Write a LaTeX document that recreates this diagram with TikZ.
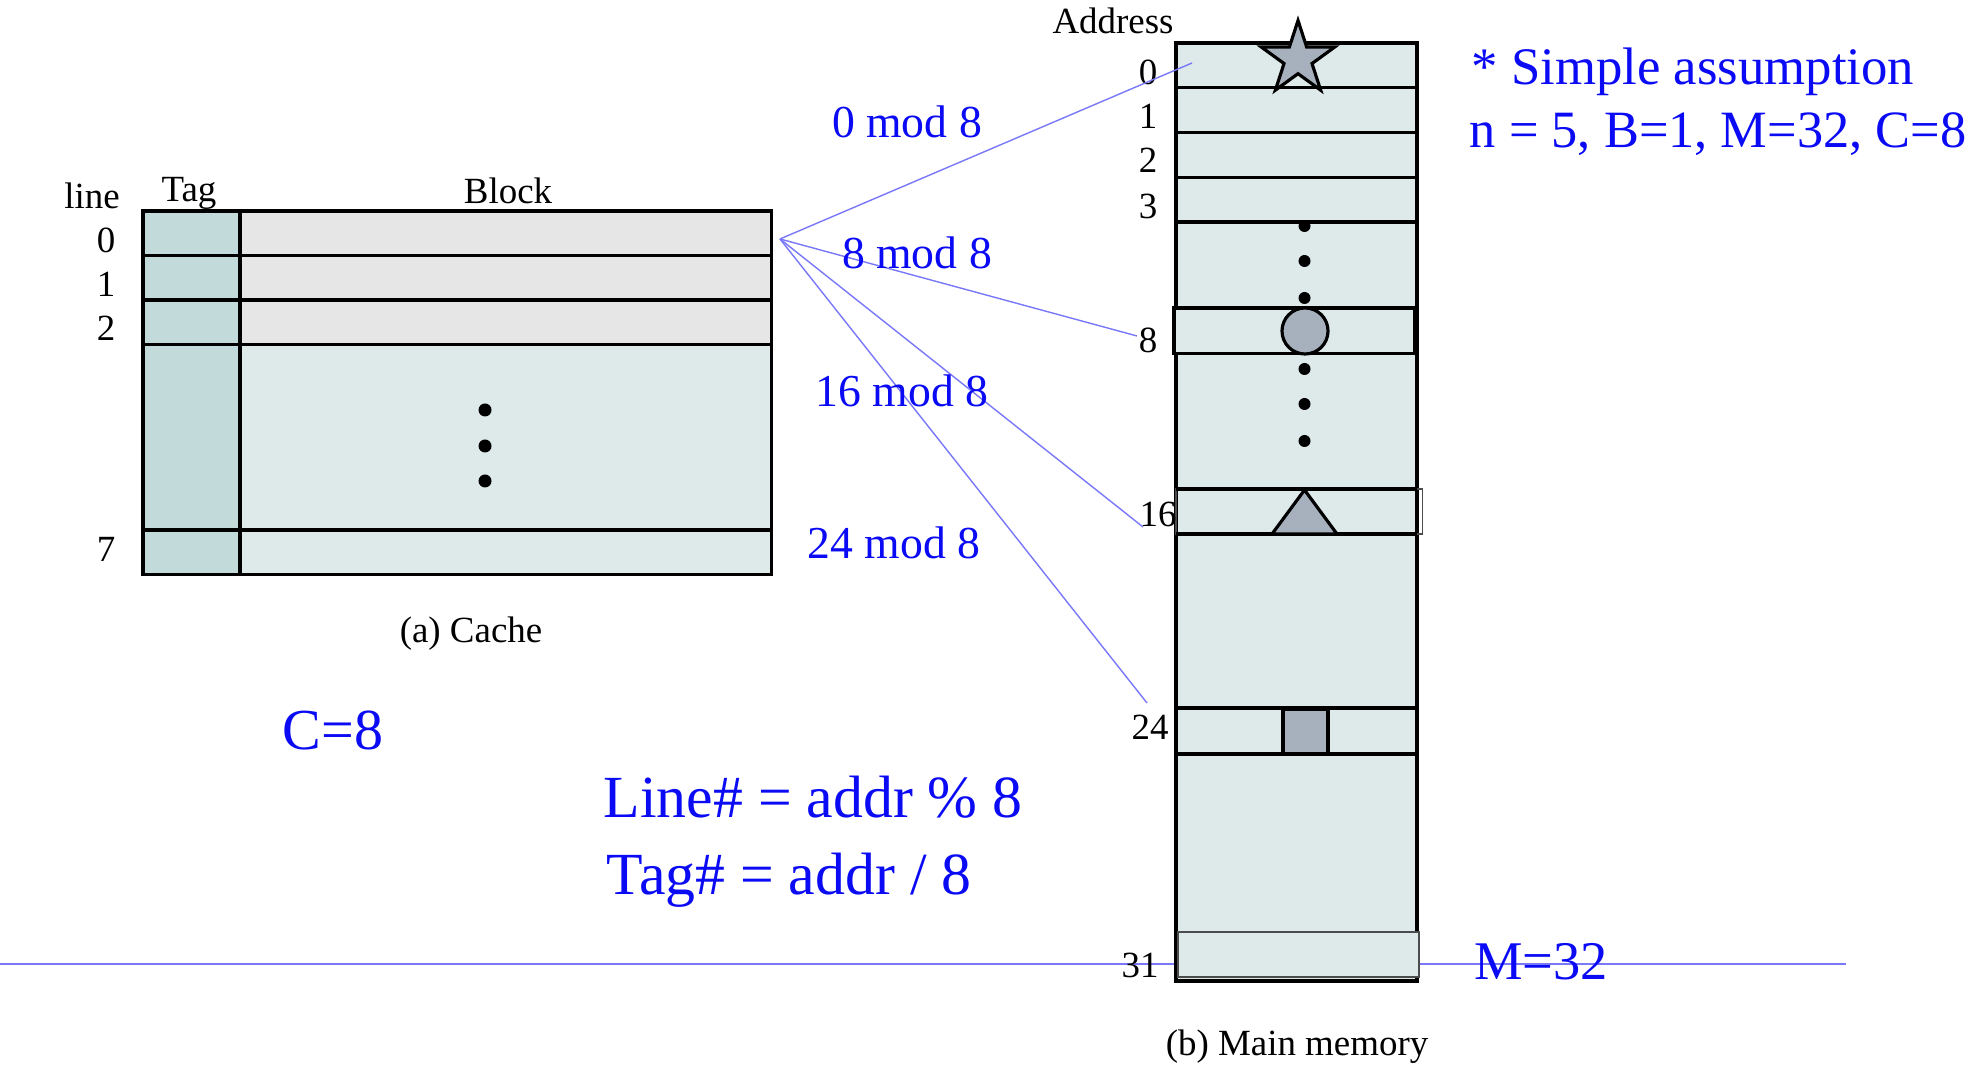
\documentclass[tikz,border=0pt]{standalone}
\usepackage{fontspec}
\setmainfont{Liberation Serif}
\usepackage{tikz}
\usetikzlibrary{shapes.geometric, positioning}
\definecolor{mblue}{HTML}{0A0AF5}
\definecolor{mlink}{HTML}{7878F8}
\definecolor{mtag}{HTML}{C3DADA}
\definecolor{mgrey}{HTML}{E6E6E6}
\definecolor{mcell}{HTML}{DEE9E9}
\definecolor{mshape}{HTML}{A7B1BE}
\tikzset{
  lbl/.style={font=\fontsize{10.5}{12}\selectfont, inner sep=0pt},
  modlbl/.style={text=mblue, font=\fontsize{13}{15}\selectfont, inner sep=0pt},
  bignote/.style={text=mblue, font=\fontsize{17}{20}\selectfont, inner sep=0pt},
  cellline/.style={draw=black, line width=1pt},
  mapline/.style={draw=mlink, line width=0.4pt},
  shapebox/.style={draw=black, line width=0.9pt, fill=mshape},
  dotmark/.style={fill=black},
}

\begin{document}
\begin{tikzpicture}[x=0.01cm, y=-0.01cm]
  \useasboundingbox (0,0) rectangle (1980,1074);
  % M=32 marker line (behind memory)
  \coordinate (mlineL) at (0,964);
  \coordinate (mlineR) at (1846,964);
  \draw[draw=mlink, line width=0.6pt] (mlineL) -- (mlineR);

  % Cache
  \fill[mtag]  (143,211) rectangle (240,574.5);
  \fill[mgrey] (240,211) rectangle (771.5,344.5);
  \fill[mcell] (240,344.5) rectangle (771.5,574.5);
  \foreach \y in {255.5,300,344.5,530}
    \draw[cellline] (143,\y) -- (771.5,\y);
  \draw[cellline] (240,211) -- (240,574.5);
  \draw[cellline] (143,211) rectangle (771.5,574.5);
  \foreach \y in {410,446,481}
    \fill[dotmark] (485,\y) circle (6.5);
  \node[lbl] (linehd)  at (92,196)  {line};
  \node[lbl] (taghd)   at (189,193) {Tag};
  \node[lbl] (blockhd) at (508,191) {Block};
  \node[lbl] (cl0) at (106,240) {0};
  \node[lbl] (cl1) at (106,284) {1};
  \node[lbl] (cl2) at (106,328) {2};
  \node[lbl] (cl7) at (106,549) {7};
  \node[lbl] (cachecap) at (471,634) {(a) Cache};

  % Main memory
  \fill[mcell] (1176,43) rectangle (1417,981);
  \foreach \y in {87.5,132.5,177.5,222}
    \draw[cellline] (1176,\y) -- (1417,\y);
  \draw[cellline] (1176,43) rectangle (1417,981);
  \draw[cellline, fill=mcell] (1174,308) rectangle (1415,353.5);
  \draw[draw=black!70, line width=0.3pt] (1176,489) rectangle (1422,534);
  \draw[cellline] (1176,489) -- (1417,489);
  \draw[cellline] (1176,534) -- (1417,534);
  \draw[cellline] (1176,708) -- (1417,708);
  \draw[cellline] (1176,754) -- (1417,754);
  \draw[draw=black!70, line width=0.4pt, fill=mcell] (1178,932) rectangle (1419,977);
  \foreach \y in {226,261,298,369,404,441}
    \fill[dotmark] (1304.5,\y) circle (6);
  \node[shapebox, star, star points=5, star point ratio=2.618,
        minimum size=0.77cm, inner sep=0pt] (blk0) at (1298,59) {};
  \node[shapebox, circle, minimum size=0.46cm, inner sep=0pt] (blk8) at (1305,331) {};
  \draw[shapebox] (1304.5,490) -- (1337,534) -- (1272,534) -- cycle;
  \draw[shapebox] (1283,709) rectangle (1328,754);
  \node[lbl] (addrhd) at (1113,21) {Address};
  \node[lbl] (a0)  at (1148,72)  {0};
  \node[lbl] (a1)  at (1148,116) {1};
  \node[lbl] (a2)  at (1148,160) {2};
  \node[lbl] (a3)  at (1148,206) {3};
  \node[lbl] (a8)  at (1148,340) {8};
  \node[lbl] (a16) at (1158,514) {16};
  \node[lbl] (a24) at (1150,727) {24};
  \node[lbl] (a31) at (1140,965) {31};
  \node[lbl] (memcap) at (1297,1047) {(b) Main memory};

  % Mapping lines
  \coordinate (src) at (780,239);
  \coordinate (to0)  at (1192,63);
  \coordinate (to8)  at (1137,336);
  \coordinate (to16) at (1143,527);
  \coordinate (to24) at (1147,703);
  \foreach \t in {to0,to8,to16,to24}
    \draw[mapline] (src) -- (\t);
  \node[modlbl] (mod0)  at (907,122) {0 mod 8};
  \node[modlbl] (mod8)  at (917,253) {8 mod 8};
  \node[modlbl] (mod16) at (902,391) {16 mod 8};
  \node[modlbl] (mod24) at (894,543) {24 mod 8};

  % Notes
  \node[bignote, font=\fontsize{15}{18}\selectfont, anchor=west] (assume) at (1471,72) {* Simple assumption};
  \node[bignote, font=\fontsize{14.9}{18}\selectfont, anchor=west] (params) at (1469,134) {n = 5, B=1, M=32, C=8};
  \node[bignote, font=\fontsize{16.5}{19}\selectfont] (cnote) at (333,730) {C=8};
  \node[bignote, anchor=west] (linenote) at (603,797) {Line\# = addr \% 8};
  \node[bignote, anchor=west] (tagnote)  at (606,880) {Tag\# = addr / 8};
  \node[bignote, font=\fontsize{15.5}{18}\selectfont] (mnote) at (1541,962) {M=32};
\end{tikzpicture}
\end{document}
